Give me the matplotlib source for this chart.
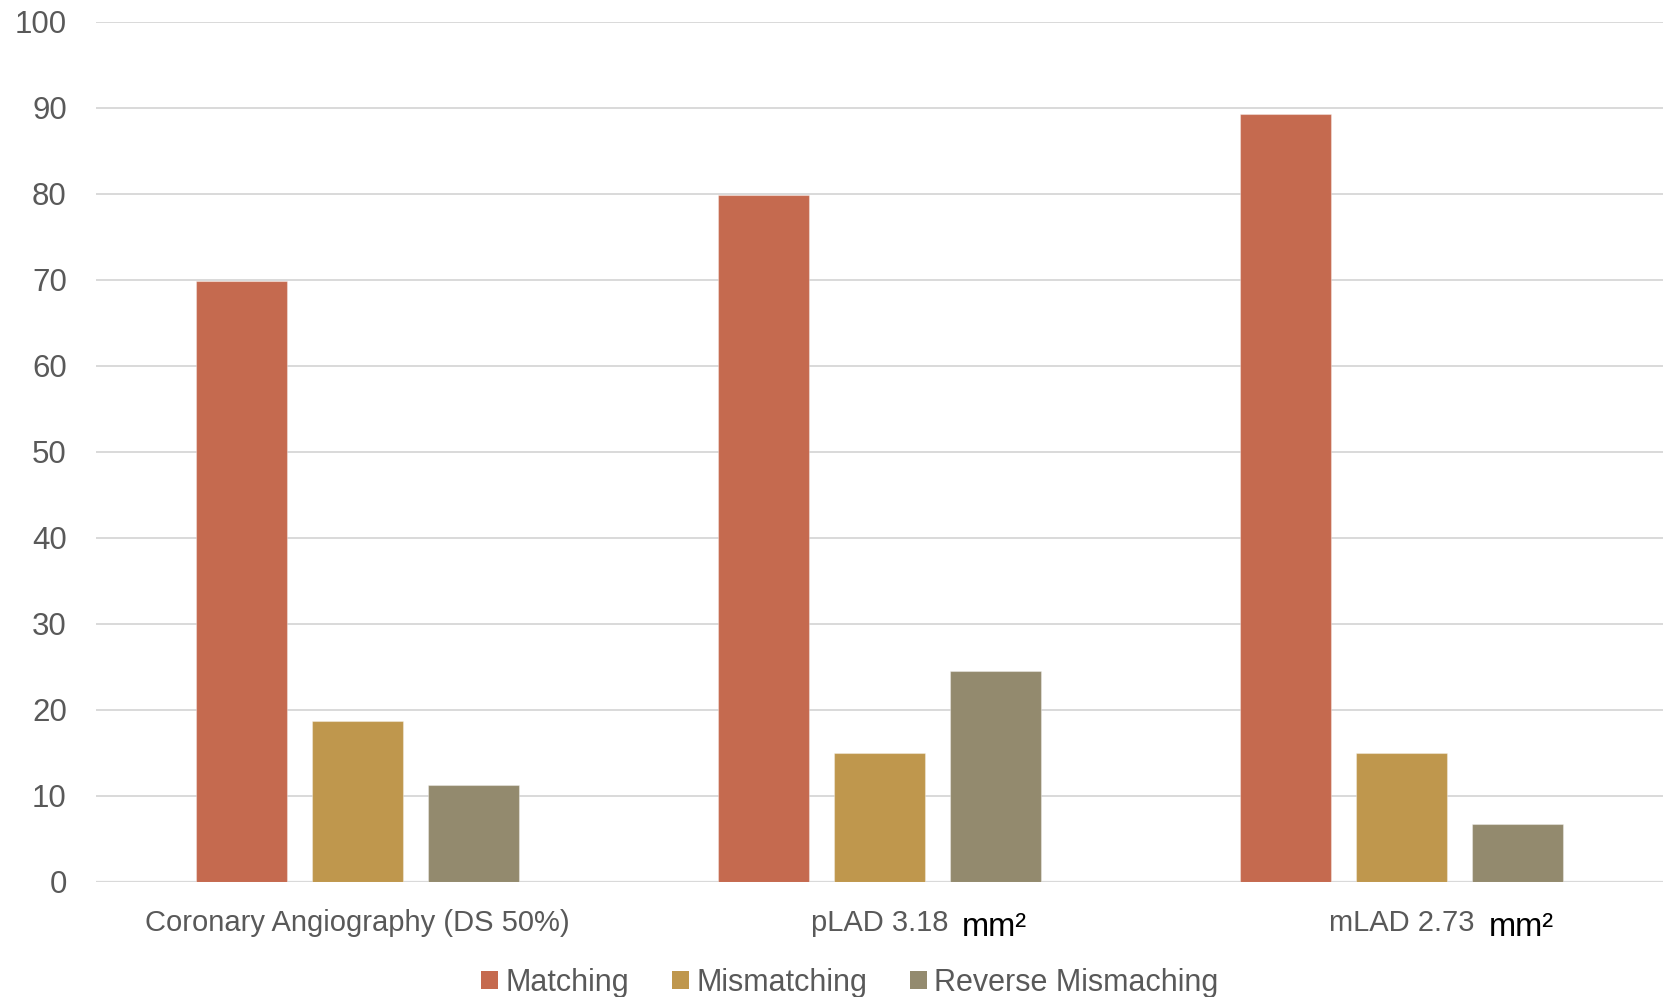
import matplotlib
matplotlib.use("Agg")
import matplotlib.pyplot as plt
from matplotlib import font_manager
from matplotlib.patches import Patch
import numpy as np

# ---- data ----
categories = ["Coronary Angiography (DS 50%)", "pLAD 3.18", "mLAD 2.73"]
units = ["", "mm\u00b2", "mm\u00b2"]
series_names = ["Matching", "Mismatching", "Reverse Mismaching"]
matching = [69.8, 79.8, 89.3]
mismatching = [18.7, 15.0, 15.0]
reverse_mismatching = [11.2, 24.5, 6.7]
y_ticks = [0, 10, 20, 30, 40, 50, 60, 70, 80, 90, 100]

# ---- style ----
colors = ["#C56A4F", "#BF974D", "#938A6E"]
text_gray = "#595959"
grid_gray = "#D9D9D9"

installed = {f.name for f in font_manager.fontManager.ttflist}
base_font = "Liberation Sans" if "Liberation Sans" in installed else "DejaVu Sans"
plt.rcParams["font.family"] = [base_font, "DejaVu Sans"]

fig = plt.figure(figsize=(16.63, 9.97), dpi=100)
ax = fig.add_axes([96 / 1663, 1 - 881.7 / 997, 1 - 96 / 1663, (881.7 - 21.7) / 997])

x = np.arange(len(categories))
bar_w = 0.1743
step = 0.2222
for k, (vals, col, name) in enumerate(zip([matching, mismatching, reverse_mismatching], colors, series_names)):
    ax.bar(x + (k - 1) * step, vals, width=bar_w, color=col, edgecolor=(1, 1, 1, 0.35),
           linewidth=0.8, label=name, zorder=3)

ax.set_xlim(-0.5, len(categories) - 0.5)
ax.set_ylim(0, 100)
ax.set_yticks(y_ticks)
ax.set_yticklabels([str(t) for t in y_ticks])
ax.yaxis.grid(True, color=grid_gray, linewidth=1.4, zorder=0)
ax.set_axisbelow(True)
for s in ax.spines.values():
    s.set_visible(False)
ax.axhline(0, color=grid_gray, linewidth=1.6, zorder=2)

ax.tick_params(axis="y", length=0, pad=21, labelsize=22.5, labelcolor=text_gray)
ax.tick_params(axis="x", length=0, pad=20, labelsize=21, labelcolor=text_gray)
ax.set_xticks(x)
ax.set_xticklabels(categories)

# unit suffixes drawn after the category labels
fig.canvas.draw()
for lbl, unit in zip(ax.get_xticklabels(), units):
    if unit:
        ax.annotate(unit, xy=(1, 0), xycoords=lbl, xytext=(10, 1), textcoords="offset points",
                    ha="left", va="baseline", fontsize=23.5, color="black",
                    annotation_clip=False)

legend_size = 22
fs_px = legend_size * 100 / 72
handles = [Patch(facecolor=c, edgecolor="none") for c in colors]
fig.legend(handles, series_names, loc="center left", bbox_to_anchor=(481 / 1663, 1 - 983 / 997),
           ncol=3, frameon=False, borderpad=0, borderaxespad=0,
           prop={"size": legend_size}, labelcolor=text_gray,
           handlelength=17 / fs_px, handleheight=17 / fs_px, handletextpad=8 / fs_px,
           columnspacing=42 / fs_px)

fig.savefig("out.png", dpi=100)
